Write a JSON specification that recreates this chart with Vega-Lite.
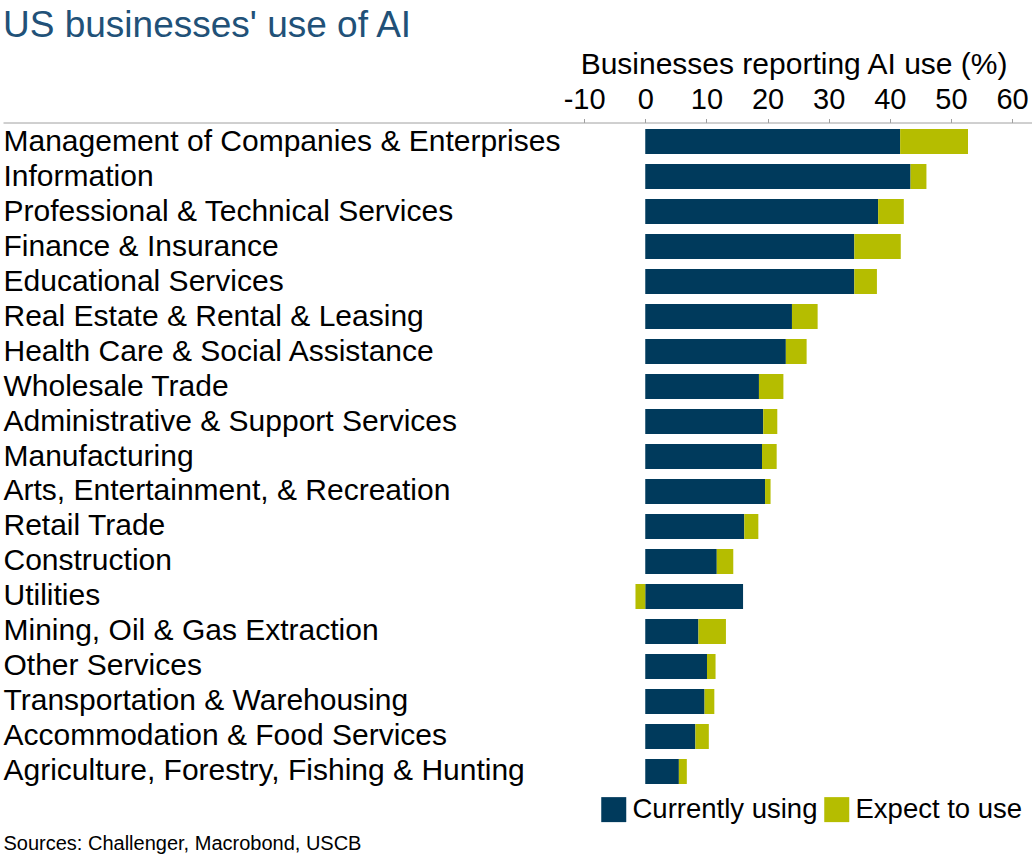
{
  "$schema": "https://vega.github.io/schema/vega-lite/v6.json",
  "autosize": "none",
  "width": 1029,
  "height": 668,
  "padding": {"left": 3, "top": 122.5, "right": 0, "bottom": 66.5},
  "background": "#ffffff",
  "config": {
    "font": "Liberation Sans",
    "view": {"stroke": null}
  },
  "title": {
    "text": "US businesses' use of AI",
    "anchor": "start",
    "frame": "group",
    "fontSize": 37,
    "fontWeight": "normal",
    "color": "#215178",
    "offset": 4
  },
  "data": {
    "values": [
      {"industry": "Management of Companies & Enterprises", "status": "Currently using", "value": 41.7},
      {"industry": "Management of Companies & Enterprises", "status": "Expect to use", "value": 11.1},
      {"industry": "Information", "status": "Currently using", "value": 43.4},
      {"industry": "Information", "status": "Expect to use", "value": 2.6},
      {"industry": "Professional & Technical Services", "status": "Currently using", "value": 38.1},
      {"industry": "Professional & Technical Services", "status": "Expect to use", "value": 4.2},
      {"industry": "Finance & Insurance", "status": "Currently using", "value": 34.2},
      {"industry": "Finance & Insurance", "status": "Expect to use", "value": 7.6},
      {"industry": "Educational Services", "status": "Currently using", "value": 34.2},
      {"industry": "Educational Services", "status": "Expect to use", "value": 3.7},
      {"industry": "Real Estate & Rental & Leasing", "status": "Currently using", "value": 24.0},
      {"industry": "Real Estate & Rental & Leasing", "status": "Expect to use", "value": 4.2},
      {"industry": "Health Care & Social Assistance", "status": "Currently using", "value": 23.0},
      {"industry": "Health Care & Social Assistance", "status": "Expect to use", "value": 3.4},
      {"industry": "Wholesale Trade", "status": "Currently using", "value": 18.6},
      {"industry": "Wholesale Trade", "status": "Expect to use", "value": 4.0},
      {"industry": "Administrative & Support Services", "status": "Currently using", "value": 19.3},
      {"industry": "Administrative & Support Services", "status": "Expect to use", "value": 2.3},
      {"industry": "Manufacturing", "status": "Currently using", "value": 19.1},
      {"industry": "Manufacturing", "status": "Expect to use", "value": 2.4},
      {"industry": "Arts, Entertainment, & Recreation", "status": "Currently using", "value": 19.6},
      {"industry": "Arts, Entertainment, & Recreation", "status": "Expect to use", "value": 0.9},
      {"industry": "Retail Trade", "status": "Currently using", "value": 16.2},
      {"industry": "Retail Trade", "status": "Expect to use", "value": 2.3},
      {"industry": "Construction", "status": "Currently using", "value": 11.7},
      {"industry": "Construction", "status": "Expect to use", "value": 2.7},
      {"industry": "Utilities", "status": "Currently using", "value": 16.0},
      {"industry": "Utilities", "status": "Expect to use", "value": -1.6},
      {"industry": "Mining, Oil & Gas Extraction", "status": "Currently using", "value": 8.7},
      {"industry": "Mining, Oil & Gas Extraction", "status": "Expect to use", "value": 4.5},
      {"industry": "Other Services", "status": "Currently using", "value": 10.1},
      {"industry": "Other Services", "status": "Expect to use", "value": 1.4},
      {"industry": "Transportation & Warehousing", "status": "Currently using", "value": 9.7},
      {"industry": "Transportation & Warehousing", "status": "Expect to use", "value": 1.6},
      {"industry": "Accommodation & Food Services", "status": "Currently using", "value": 8.2},
      {"industry": "Accommodation & Food Services", "status": "Expect to use", "value": 2.2},
      {"industry": "Agriculture, Forestry, Fishing & Hunting", "status": "Currently using", "value": 5.5},
      {"industry": "Agriculture, Forestry, Fishing & Hunting", "status": "Expect to use", "value": 1.3}
    ]
  },
  "mark": {"type": "bar"},
  "encoding": {
    "y": {
      "field": "industry",
      "type": "nominal",
      "sort": null,
      "scale": {"paddingInner": 0.286, "paddingOuter": 0.186},
      "axis": {
        "orient": "left",
        "domain": false,
        "ticks": false,
        "tickSize": 0,
        "grid": false,
        "labelAlign": "left",
        "labelPadding": 0,
        "labelFontSize": 30,
        "labelColor": "#000000",
        "labelLimit": 800,
        "title": "Sources: Challenger, Macrobond, USCB",
        "titleAngle": 0,
        "titleAlign": "left",
        "titleBaseline": "alphabetic",
        "titleX": 0,
        "titleY": 726.5,
        "titleFontSize": 20,
        "titleFontWeight": "normal",
        "titleColor": "#000000"
      }
    },
    "x": {
      "field": "value",
      "type": "quantitative",
      "stack": "zero",
      "scale": {"domain": [-105.07, 63.27], "nice": false, "zero": false},
      "axis": {
        "orient": "top",
        "values": [-10, 0, 10, 20, 30, 40, 50, 60],
        "labelExpr": "toString(datum.value)",
        "grid": false,
        "domain": true,
        "domainColor": "#a0a0a0",
        "domainWidth": 1,
        "ticks": true,
        "tickSize": 4,
        "tickColor": "#a0a0a0",
        "labelFontSize": 29,
        "labelColor": "#000000",
        "labelBaseline": "alphabetic",
        "labelPadding": 10,
        "labelFlush": false,
        "labelOverlap": false,
        "title": "Businesses reporting AI use (%)",
        "titleFontSize": 30,
        "titleFontWeight": "normal",
        "titleColor": "#000000",
        "titleAlign": "right",
        "titleAnchor": "end",
        "titleBaseline": "alphabetic",
        "titleX": 1004,
        "titleY": -49.5
      }
    },
    "color": {
      "field": "status",
      "type": "nominal",
      "scale": {"domain": ["Currently using", "Expect to use"], "range": ["#003a5c", "#b5bd00"]},
      "legend": {
        "title": null,
        "orient": "none",
        "direction": "horizontal",
        "legendX": 597,
        "legendY": 673,
        "padding": 0,
        "symbolType": "square",
        "symbolSize": 625,
        "symbolStrokeWidth": 0,
        "labelFontSize": 27.5,
        "labelColor": "#000000",
        "labelLimit": 400,
        "labelOffset": 5,
        "columnPadding": 5
      }
    },
    "order": {"field": "status", "sort": "ascending"}
  }
}
